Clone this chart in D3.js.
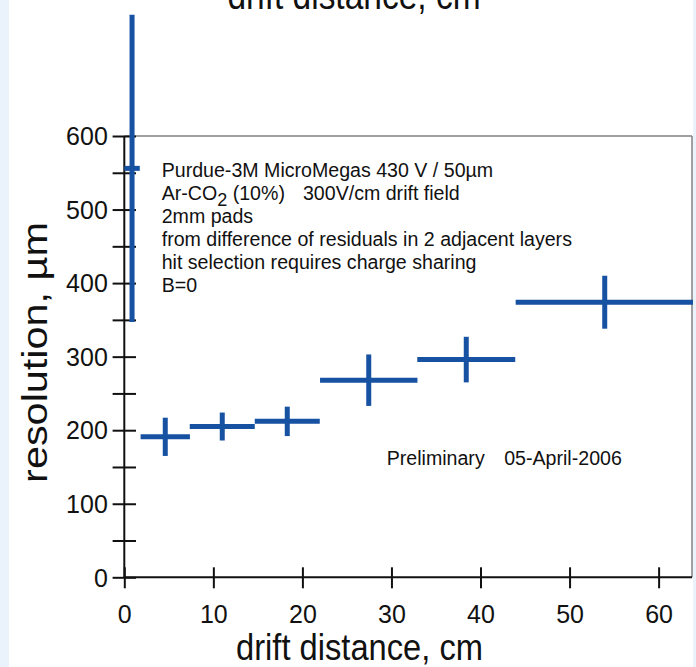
<!DOCTYPE html>
<html>
<head>
<meta charset="utf-8">
<script src="https://cdn.jsdelivr.net/npm/d3@7"></script>
<style>
  html, body { margin: 0; padding: 0; background: #eaf3fc; }
  svg { display: block; }
  text { font-family: "Liberation Sans", Arial, sans-serif; fill: #111; white-space: pre; }
</style>
</head>
<body>
<svg id="chart" width="696" height="667"></svg>
<script>
// Drift-distance bins (cm): centre and half-width
const distance      = [0.87, 4.6, 11.0, 18.3, 27.45, 38.4, 53.95];
const distanceErr   = [0.87, 2.77, 3.65, 3.65, 5.47, 5.5, 10.0];
// Spatial resolution (µm) and its uncertainty
const resolution    = [556, 191, 205, 212, 268, 296, 374];
const resolutionErr = [209, 26, 19, 20, 35, 31, 36];

const xTicks = [0, 10, 20, 30, 40, 50, 60];
const yTicks = [0, 50, 100, 150, 200, 250, 300, 350, 400, 450, 500, 550, 600];
const yLabels = [0, 100, 200, 300, 400, 500, 600];

const xTitle = "drift distance, cm";
const yTitle = "resolution, \u00B5m";
const infoLines = [
  "Purdue-3M MicroMegas 430 V / 50\u00B5m",
  null, // gas line, built with a subscript below
  "2mm pads",
  "from difference of residuals in 2 adjacent layers",
  "hit selection requires charge sharing",
  "B=0"
];
const stampParts = ["Preliminary", "05-April-2006"];

const blue = "#1652a1";
const svg = d3.select("#chart");

// white page area
svg.append("rect").attr("x", 9).attr("y", 0).attr("width", 684).attr("height", 667).attr("fill", "#ffffff");

const x = d3.scaleLinear().domain([0, 63.75]).range([124.3, 692]);
const y = d3.scaleLinear().domain([0, 600]).range([577.3, 136]);

// grey frame on the top and right
const frame = svg.append("g").attr("stroke", "#808080").attr("stroke-width", 1.5).attr("fill", "none");
frame.append("line").attr("x1", x(0)).attr("x2", x.range()[1]).attr("y1", y(600)).attr("y2", y(600));
frame.append("line").attr("x1", x.range()[1]).attr("x2", x.range()[1]).attr("y1", y(600)).attr("y2", y(0));

// y axis: ticks crossing the line, labels every 100
const yAxis = svg.append("g").attr("transform", `translate(${x(0)},0)`)
  .call(d3.axisLeft(y).tickValues(yTicks).tickSize(11.7).tickSizeOuter(0)
    .tickFormat(d => yLabels.includes(d) ? d : ""));
yAxis.select(".domain").attr("stroke", "#111").attr("stroke-width", 2)
  .attr("d", `M0,${y(0)}V${y(600)}`);
yAxis.selectAll(".tick line").attr("stroke", "#111").attr("stroke-width", 2).attr("x2", 11.7).attr("x1", -11.7);
yAxis.selectAll(".tick text").attr("x", -16.5).attr("font-size", 25).attr("fill", "#111")
  .attr("font-family", "Liberation Sans, Arial, sans-serif").attr("dy", "0.35em");

// x axis
const xAxis = svg.append("g").attr("transform", `translate(0,${y(0)})`)
  .call(d3.axisBottom(x).tickValues(xTicks).tickSize(11).tickSizeOuter(0));
xAxis.select(".domain").attr("stroke", "#111").attr("stroke-width", 2)
  .attr("d", `M${x(0)},0H${x.range()[1]}`);
xAxis.selectAll(".tick line").attr("stroke", "#111").attr("stroke-width", 2).attr("y1", -10).attr("y2", 11);
xAxis.selectAll(".tick text").attr("y", 45.5).attr("dy", null).attr("font-size", 25).attr("fill", "#111")
  .attr("font-family", "Liberation Sans, Arial, sans-serif");

// axis titles
svg.append("text").attr("transform", "translate(359.5,660) scale(1,1.15)")
  .attr("text-anchor", "middle").attr("font-size", 32.7).text(xTitle);
svg.append("text").attr("transform", "translate(354,9) scale(1,1.15)")
  .attr("text-anchor", "middle").attr("font-size", 33.5).text(xTitle);
svg.append("text").attr("transform", "translate(47,352.5) rotate(-90) scale(1.15,1)")
  .attr("text-anchor", "middle").attr("font-size", 36).text(yTitle);

// data: crosses from the bin width and the resolution error
const data = distance.map((d, i) => ({ x: d, xe: distanceErr[i], y: resolution[i], ye: resolutionErr[i] }));
const marks = svg.append("g").attr("stroke", blue).attr("stroke-width", 5).attr("fill", "none");
marks.selectAll("line.h").data(data).join("line").attr("class", "h")
  .attr("x1", d => Math.max(x(d.x - d.xe), x.range()[0]))
  .attr("x2", d => Math.min(x(d.x + d.xe), x.range()[1] + 1))
  .attr("y1", d => y(d.y)).attr("y2", d => y(d.y));
marks.selectAll("line.v").data(data).join("line").attr("class", "v")
  .attr("x1", d => x(d.x)).attr("x2", d => x(d.x))
  .attr("y1", d => y(d.y - d.ye)).attr("y2", d => y(d.y + d.ye));

// run conditions
const info = svg.append("g").attr("font-size", 19.6);
infoLines.forEach((t, i) => {
  const base = 177 + 23 * i;
  if (t !== null) { info.append("text").attr("x", 161.7).attr("y", base).text(t); return; }
  const gas = info.append("text").attr("x", 161.7).attr("y", base);
  gas.append("tspan").text("Ar-CO");
  gas.append("tspan").attr("dy", 6).attr("font-size", 18).text("2");
  gas.append("tspan").attr("dy", -6).text(" (10%)");
  gas.append("tspan").attr("dx", 18).text("300V/cm drift field");
});

const stamp = svg.append("text").attr("x", 386.7).attr("y", 465).attr("font-size", 19.6);
stamp.append("tspan").text(stampParts[0]);
stamp.append("tspan").attr("dx", 19.5).text(stampParts[1]);
</script>
</body>
</html>
